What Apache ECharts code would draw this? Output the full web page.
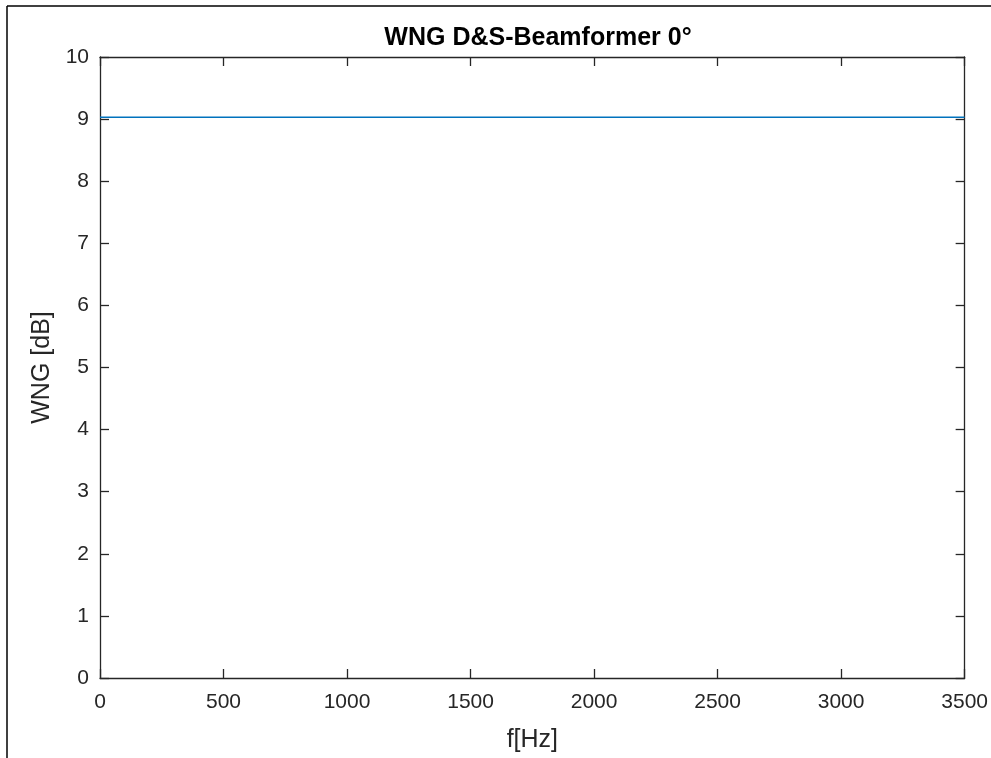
<!DOCTYPE html>
<html lang="en" style="height: 100%">
<head>
    <meta charset="utf-8">
    <title>WNG D&amp;S-Beamformer</title>
    <script src="https://cdn.jsdelivr.net/npm/echarts@6/dist/echarts.min.js"></script>
</head>
<body style="height: 100%; margin: 0; background: #fff">
<div id="container" style="width: 991px; height: 758px"></div>
<script type="text/javascript">
    // frequency points [Hz] and white noise gain [dB]
    var freqs = [0, 500, 1000, 1500, 2000, 2500, 3000, 3500];
    var wng = [9.03, 9.03, 9.03, 9.03, 9.03, 9.03, 9.03, 9.03];
    var xTicks = [0, 500, 1000, 1500, 2000, 2500, 3000, 3500];
    var yTicks = [0, 1, 2, 3, 4, 5, 6, 7, 8, 9, 10];

    var FONT = 'Liberation Sans';
    var axisColor = '#262626';

    var chart = echarts.init(document.getElementById('container'), null, {renderer: 'canvas'});

    function axisBase(extra) {
        var a = {
            axisLine: {show: true, onZero: false, lineStyle: {color: axisColor, width: 1.3}},
            axisTick: {show: true, inside: true, length: 9, lineStyle: {color: axisColor, width: 1.3}},
            splitLine: {show: false},
            axisLabel: {color: axisColor, fontFamily: FONT, fontSize: 21}
        };
        for (var k in extra) a[k] = extra[k];
        return a;
    }

    function plain(v) { return String(v); }

    var option = {
        animation: false,
        backgroundColor: '#fff',
        title: {
            text: 'WNG D&S-Beamformer 0°',
            left: 533,
            textAlign: 'center',
            top: 21,
            textStyle: {fontFamily: FONT, fontWeight: 'bold', fontSize: 25, color: '#000'}
        },
        grid: {left: 100, right: 23, top: 57, bottom: 80},
        xAxis: [
            axisBase({
                type: 'value', min: xTicks[0], max: xTicks[xTicks.length - 1], interval: 500,
                name: 'f[Hz]', nameLocation: 'middle', nameGap: 50,
                nameTextStyle: {fontFamily: FONT, fontSize: 25, color: axisColor},
                axisLabel: {color: axisColor, fontFamily: FONT, fontSize: 21, margin: 14, formatter: plain}
            }),
            axisBase({
                type: 'value', position: 'top', min: xTicks[0], max: xTicks[xTicks.length - 1], interval: 500,
                axisLabel: {show: false}
            })
        ],
        yAxis: [
            axisBase({
                type: 'value', min: yTicks[0], max: yTicks[yTicks.length - 1], interval: 1,
                name: 'WNG [dB]', nameLocation: 'middle', nameGap: 44,
                nameTextStyle: {fontFamily: FONT, fontSize: 25, color: axisColor},
                axisLabel: {color: axisColor, fontFamily: FONT, fontSize: 21, margin: 11, formatter: plain}
            }),
            axisBase({
                type: 'value', position: 'right', min: yTicks[0], max: yTicks[yTicks.length - 1], interval: 1,
                axisLabel: {show: false}
            })
        ],
        series: [{
            type: 'line',
            data: freqs.map(function (f, i) { return [f, wng[i]]; }),
            showSymbol: false,
            lineStyle: {color: '#0072BD', width: 1.6},
            xAxisIndex: 0,
            yAxisIndex: 0
        }],
        graphic: [
            // outer frame of the figure window
            {type: 'line', shape: {x1: 7, y1: 6, x2: 991, y2: 6}, style: {stroke: '#000', lineWidth: 1.5}},
            {type: 'line', shape: {x1: 7, y1: 6, x2: 7, y2: 758}, style: {stroke: '#000', lineWidth: 1.5}}
        ]
    };

    chart.setOption(option);
</script>
</body>
</html>
